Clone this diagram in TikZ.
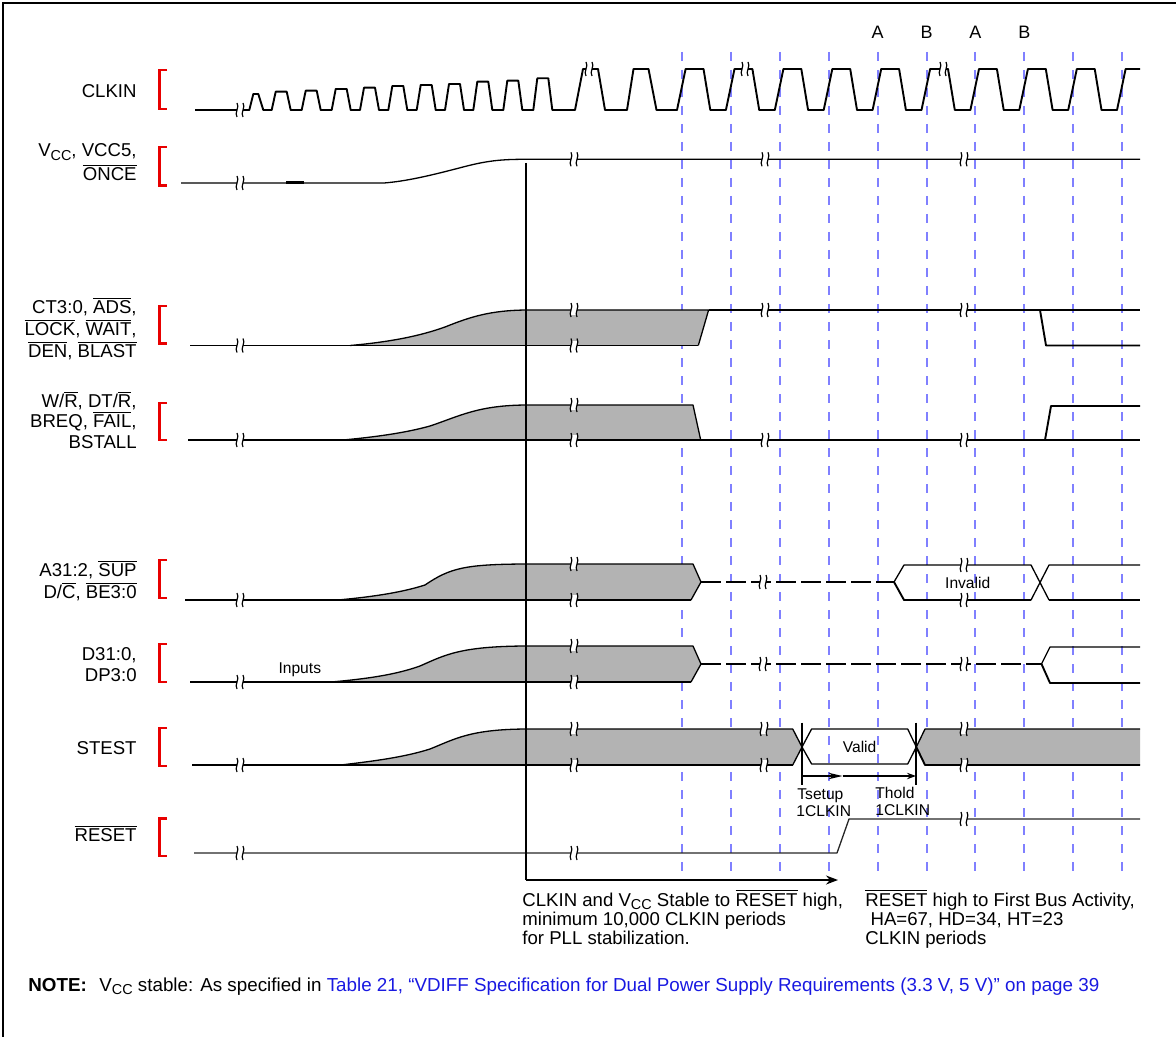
\documentclass[tikz,border=0pt]{standalone}
\usepackage{fontspec}
\setmainfont{Liberation Sans}
\usetikzlibrary{arrows.meta}
\definecolor{myred}{RGB}{232,0,0}
\definecolor{dashblue}{RGB}{128,128,255}
\definecolor{bandgray}{RGB}{179,179,179}
\definecolor{linkblue}{RGB}{25,25,225}
\newcommand\ovl[1]{\leavevmode\vbox{\hrule height 0.55pt\kern 0.9pt\hbox{#1}}}
\newcommand\subs[1]{\raisebox{-0.35ex}{\fontsize{7.2}{8}\selectfont #1}}
\tikzset{
  brk/.pic={
    \fill[white] (-3,-5) rectangle (3,5);
    \draw[line width=0.6pt] (-3,-7) .. controls (0,-3) and (-6,3) .. (-3,7);
    \draw[line width=0.6pt] (3,-7) .. controls (6,-3) and (0,3) .. (3,7);
  }
}
\begin{document}
\begin{tikzpicture}[x=0.5pt,y=-0.5pt,
  lab/.style={font=\fontsize{9.3}{11}\selectfont, inner sep=0pt, anchor=base east},
  txt/.style={font=\fontsize{9.3}{11}\selectfont, inner sep=0pt, anchor=base west},
  notetxt/.style={font=\fontsize{9.4}{11}\selectfont, inner sep=0pt, anchor=base west},
  intxt/.style={font=\fontsize{7.8}{9}\selectfont, inner sep=0pt},
  albl/.style={font=\fontsize{9}{10}\selectfont, inner sep=0pt},
  clk/.style={line width=0.95pt, line join=round},
  sig/.style={line width=0.95pt, line join=round},
  thinsig/.style={line width=0.65pt, line join=round},
  vgrid/.style={draw=dashblue, line width=1pt, dash pattern=on 4.5pt off 4.5pt},
  brack/.style={draw=myred, line width=1.2pt, line join=miter},
  hdash/.style={line width=0.95pt, dash pattern=on 10pt off 2.5pt},
  tick/.style={line width=1pt}
]
\useasboundingbox (0,0) rectangle (1176,1037);
\draw[line width=0.7pt] (3,1037) -- (3,3) -- (1176,3);

% dashed clock grid
\foreach \k in {0,...,9} \draw[vgrid] ({682+48.9*\k},52) -- ({682+48.9*\k},873);

% A / B labels
\node[albl] (la1) at (877.6,32) {A};
\node[albl] (lb1) at (926.5,32) {B};
\node[albl] (la2) at (975.4,32) {A};
\node[albl] (lb2) at (1024.3,32) {B};

% ---------- gray bands ----------
\fill[bandgray] (350,345.5) .. controls (390,342) and (420,336) .. (445,327) .. controls (470,317) and (490,310.3) .. (527,310) -- (708.6,310) -- (698.3,345.5) -- cycle;
\fill[bandgray] (343,440) .. controls (375,437) and (405,433) .. (430,426) .. controls (460,416) and (478,405.2) .. (527,405) -- (693,405) -- (700.7,440) -- cycle;
\fill[bandgray] (338,600) .. controls (370,597) and (400,593) .. (425,585) .. controls (450,568) and (465,564.2) .. (527,564) -- (693,564) -- (701,582) -- (691,600) -- cycle;
\fill[bandgray] (331,682) .. controls (365,679) and (395,675) .. (420,666) .. controls (445,655) and (460,646.2) .. (527,646) -- (693,646) -- (701,664) -- (691,682) -- cycle;
\fill[bandgray] (340.6,765) .. controls (375,761) and (405,757) .. (430,749) .. controls (455,739) and (470,729.2) .. (527,729) -- (792.7,729) -- (802,747) -- (792.7,765) -- cycle;
\fill[bandgray] (916.3,747) -- (925,729) -- (1140,729) -- (1140,765) -- (925,765) -- cycle;

% ---------- CLKIN ----------
\draw[clk] (195,110) -- (249.3,110) -- (253.3,94) -- (258.3,94) -- (263.3,110)
  \foreach \s/\t in {271.7/91.7,301.7/90.7,331.7/89,360/87.7,388.3/86,416.7/85,445/84,473.3/81.7,503.3/80.7,533.3/78.3}
  { -- (\s,110) -- (\s+4,\t) -- (\s+15,\t) -- (\s+19,110) }
  -- (575,110) -- (583,69) -- (598,69) -- (605,110) -- (627,110) -- (633.5,69) -- (648.5,69) -- (656.5,110)
  \foreach \k in {0,...,8}
  { -- ({677+48.9*\k},110) -- ({685.6+48.9*\k},69) -- ({703.5+48.9*\k},69) -- ({710.3+48.9*\k},110) }
  -- (1117,110) -- (1125.6,69) -- (1140,69);

% ---------- VCC ----------
\draw[thinsig] (181,183) -- (384,183) .. controls (410,181) and (440,173) .. (465,166.5) .. controls (490,160) and (505,159.3) .. (527,159.3) -- (1140,159.3);
\draw[line width=1.3pt] (286,182.6) -- (303.5,182.6);

% ---------- CT3 ----------
\draw[sig] (190,345.5) -- (350,345.5);
\draw[thinsig] (350,345.5) -- (698.3,345.5);
\draw[thinsig] (350,345.5) .. controls (390,342) and (420,336) .. (445,327) .. controls (470,317) and (490,310.3) .. (527,310) -- (708.6,310) -- (698.3,345.5);
\draw[thinsig] (708.6,310) -- (1140,310);
\draw[sig] (1040,310) -- (1046,345.5) -- (1140,345.5);

% ---------- W/R ----------
\draw[thinsig] (343,440) .. controls (375,437) and (405,433) .. (430,426) .. controls (460,416) and (478,405.2) .. (527,405) -- (693,405) -- (700.7,440);
\draw[sig] (188,440) -- (1140,440);
\draw[sig] (1045,440) -- (1051,406) -- (1140,406);

% ---------- A31 ----------
\draw[sig] (185,600) -- (338,600);
\draw[thinsig] (338,600) -- (691,600);
\draw[sig] (679,600) -- (691,600);
\draw[thinsig] (338,600) .. controls (370,597) and (400,593) .. (425,585) .. controls (450,568) and (465,564.2) .. (527,564) -- (693,564) -- (701,582) -- (691,600);
\draw[hdash] (701,582) -- (894,582);
\draw[thinsig] (894,582) -- (904,565) -- (1031,565) -- (1049,600);
\draw[sig] (1049,600) -- (1140,600);
\draw[sig] (894,582) -- (904,600) -- (1031,600);
\draw[thinsig] (1031,600) -- (1049,565) -- (1140,565);
\node[intxt] (inv) at (967.7,583) {Invalid};

% ---------- D31 ----------
\draw[sig] (190,682) -- (331,682);
\draw[thinsig] (331,682) -- (691,682);
\draw[sig] (679,682) -- (691,682);
\draw[thinsig] (331,682) .. controls (365,679) and (395,675) .. (420,666) .. controls (445,655) and (460,646.2) .. (527,646) -- (693,646) -- (701,664) -- (691,682);
\draw[hdash] (701,664) -- (1041.5,664);
\draw[thinsig] (1041.5,664) -- (1050,647) -- (1140,647);
\draw[sig] (1041.5,664) -- (1050,683) -- (1140,683);
\node[intxt, anchor=base] (inp) at (299.8,673.3) {Inputs};

% ---------- STEST ----------
\draw[thinsig] (340.6,765) .. controls (375,761) and (405,757) .. (430,749) .. controls (455,739) and (470,729.2) .. (527,729) -- (792.7,729) -- (802,747) -- (792.7,765);
\draw[sig] (192,765) -- (792.7,765);
\draw[thinsig] (802,747) -- (811.6,729) -- (907.7,729) -- (916.3,747) -- (907.7,764) -- (811.6,764) -- cycle;
\draw[thinsig] (916.3,747) -- (925,729) -- (1140,729);
\draw[sig] (916.3,747) -- (925,765) -- (1140,765);
\node[intxt] (val) at (859.6,747) {Valid};

% setup / hold
\coordinate (su1) at (802,722.7);
\coordinate (su2) at (802,785);
\coordinate (ho1) at (916,722.7);
\coordinate (ho2) at (916,785);
\coordinate (ar0) at (802,776);
\coordinate (ar1) at (842.5,776);
\coordinate (ar2) at (916,776);
\draw[tick] (su1) -- (su2);
\draw[tick] (ho1) -- (ho2);
\draw[tick, -{Stealth[length=7pt,width=3.2pt]}] (ar0) -- (ar1);
\draw[tick, -{Stealth[length=4.5pt,width=3.2pt]}] (ar1) -- (ar2);
\node[intxt, anchor=base west] (tsu) at (797,799) {Tsetup};
\node[intxt, anchor=base west] (tsu2) at (796,816.5) {1CLKIN};
\node[intxt, anchor=base west] (tho) at (875,798.5) {Thold};
\node[intxt, anchor=base west] (tho2) at (875,815.5) {1CLKIN};

% ---------- RESET ----------
\draw[thinsig, black!85] (194,853) -- (837,853) -- (849,819) -- (1140,819);

% ---------- break marks ----------
\foreach \x/\y in {240/110,589/69,745/69,943/69,
  240/183,574/159.3,765/159.3,964/159.3,
  240/345.5,574/310,574/345.5,765/310,964/310,
  240/440,574/405,574/440,765/440,964/440,
  240/600,574/564,574/600,763/582,964/565,964/600,
  240/682,574/646,574/682,763/664,964/664,
  240/765,574/729,574/765,764/729,764/765,964/729,964/765,
  240/853,574/853,964/819}
  \pic at (\x,\y) {brk};

% ---------- main vertical + arrow ----------
\coordinate (vtop) at (526,163);
\coordinate (vbot) at (526,880);
\coordinate (atip) at (838,880);
\draw[line width=0.8pt] (vtop) -- (vbot);
\draw[line width=0.8pt, -{Stealth[length=6pt,width=4.5pt]}] (vbot) -- (atip);

% ---------- red brackets ----------
\foreach \t/\b in {70/109.3,147.3/185.7,306/343.3,402.7/440,560/598,644/681.7,727.7/766,818.3/855.7}
  \draw[brack] (167,\t) -- (159.5,\t) -- (159.5,\b) -- (167,\b);

% ---------- signal labels ----------
\node[lab] (lclk) at (137,98) {CLKIN};
\node[lab] (lvcc1) at (137,157) {V\subs{CC}, VCC5,};
\node[lab] (lvcc2) at (137,180.5) {\ovl{ONCE}};
\node[lab] (lct1) at (137,313.5) {CT3:0, \ovl{ADS},};
\node[lab] (lct2) at (137,335.5) {\ovl{LOCK}, \ovl{WAIT},};
\node[lab] (lct3) at (137,357.5) {\ovl{DEN}, \ovl{BLAST}};
\node[lab] (lwr1) at (137,407.5) {W/\ovl{R}, DT/\ovl{R},};
\node[lab] (lwr2) at (137,427.5) {BREQ, \ovl{FAIL},};
\node[lab] (lwr3) at (137,448) {BSTALL};
\node[lab] (la31) at (137,576.5) {A31:2, \ovl{SUP}};
\node[lab] (la32) at (137,598.5) {D/\ovl{C}, \ovl{BE3:0}};
\node[lab] (ld31) at (137,660) {D31:0,};
\node[lab] (ld32) at (137,681.5) {DP3:0};
\node[lab] (lst) at (137,754) {STEST};
\node[lab] (lrs) at (137,841.5) {\ovl{RESET}};

% ---------- bottom texts ----------
\node[txt] (b1) at (522,906) {CLKIN and V\subs{CC} Stable to \ovl{RESET} high,};
\node[txt] (b2) at (522,925) {minimum 10,000 CLKIN periods};
\node[txt] (b3) at (522,944) {for PLL stabilization.};
\node[txt] (c1) at (865,906) {\ovl{RESET} high to First Bus Activity,};
\node[txt] (c2) at (865,925) {\ HA=67, HD=34, HT=23};
\node[txt] (c3) at (865,944) {CLKIN periods};

% ---------- note ----------
\node[notetxt] (nt) at (28,991.5) {\bfseries NOTE:};
\node[notetxt] (nt2) at (99,991.5) {V\subs{CC} stable: As specified in \textcolor{linkblue}{Table 21, “VDIFF Specification for Dual Power Supply Requirements (3.3 V, 5 V)” on page 39}};
\end{tikzpicture}
\end{document}
